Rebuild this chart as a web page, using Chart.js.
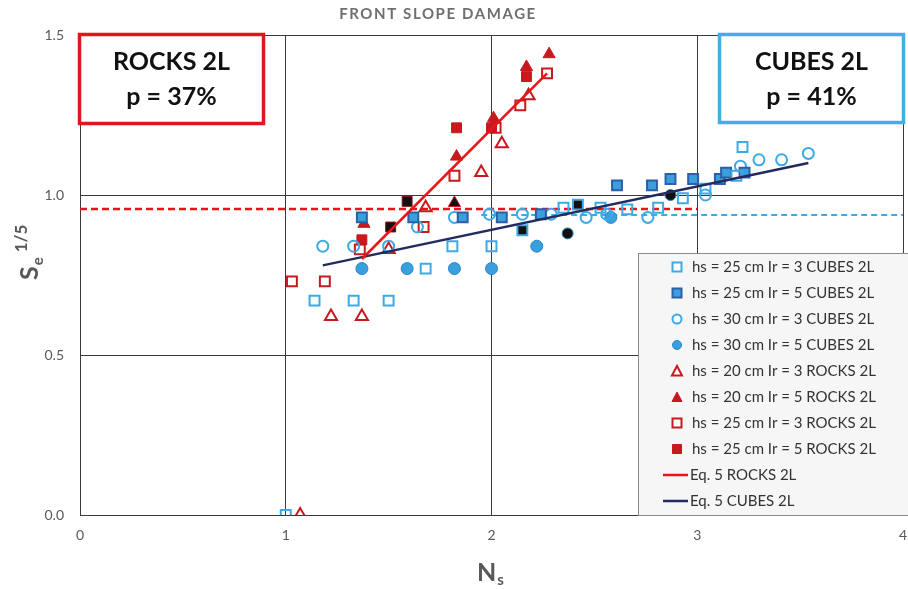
<!DOCTYPE html>
<html>
<head>
<meta charset="utf-8">
<script src="https://cdn.jsdelivr.net/npm/chart.js@4.4.1/dist/chart.umd.min.js"></script>
<style>
  html, body { margin: 0; padding: 0; background: #fff; overflow: hidden; }
  #wrap { width: 908px; height: 589px; overflow: hidden; }
</style>
</head>
<body>
<div id="wrap"><canvas id="myChart" width="912" height="589"></canvas></div>
<script>
// data, [Ns, Se^(1/5)]
var cubes25Ir3 = [[1.0,0.0],[1.14,0.67],[1.33,0.67],[1.5,0.67],[1.68,0.77],[1.81,0.84],[2.0,0.84],[2.35,0.96],[2.53,0.96],[2.66,0.955],[2.81,0.96],[2.93,0.99],[3.04,1.02],[3.19,1.06],[3.22,1.15]];
var cubes25Ir5 = [[1.37,0.93],[1.62,0.93],[1.86,0.93],[2.05,0.93],[2.24,0.94],[2.61,1.03],[2.78,1.03],[2.87,1.05],[2.98,1.05],[3.11,1.05],[3.14,1.07],[3.23,1.07]];
var cubes25Ir5Black = [[2.15,0.89],[2.42,0.97]];
var cubes30Ir3 = [[1.18,0.84],[1.33,0.84],[1.5,0.84],[1.64,0.9],[1.82,0.93],[1.99,0.94],[2.15,0.94],[2.29,0.94],[2.46,0.93],[2.56,0.94],[2.76,0.93],[3.04,1.0],[3.21,1.09],[3.3,1.11],[3.41,1.11],[3.54,1.13]];
var cubes30Ir5 = [[1.37,0.77],[1.59,0.77],[1.82,0.77],[2.0,0.77],[2.22,0.84],[2.58,0.93]];
var cubes30Ir5Black = [[2.37,0.88],[2.87,1.0]];
var rocks20Ir3 = [[1.07,0.0],[1.22,0.62],[1.37,0.62],[1.5,0.83],[1.68,0.96],[1.95,1.07],[2.05,1.16],[2.18,1.31]];
var rocks20Ir5 = [[1.38,0.91],[1.83,1.12],[2.01,1.24],[2.17,1.4],[2.28,1.44]];
var rocks20Ir5Black = [[1.82,0.975]];
var rocks25Ir3 = [[1.03,0.73],[1.19,0.73],[1.36,0.83],[1.67,0.9],[1.82,1.06],[2.02,1.21],[2.14,1.28],[2.27,1.38]];
var rocks25Ir5 = [[1.37,0.86],[1.83,1.21],[2.0,1.21],[2.17,1.37]];
var rocks25Ir5Black = [[1.51,0.9],[1.59,0.98]];
var eqRocks = [[1.37,0.8],[2.27,1.38]];
var eqCubes = [[1.18,0.78],[3.54,1.1]];
var pRocks = [[0,0.956],[3,0.956]];   // dashed p-level lines
var pCubes = [[1.95,0.9375],[4,0.9375]];

var xTicks = [0, 1, 2, 3, 4];
var yTicks = [0, 0.5, 1.0, 1.5];

var legendLabels = ['hs = 25 cm Ir = 3 CUBES 2L','hs = 25 cm Ir = 5 CUBES 2L','hs = 30 cm Ir = 3 CUBES 2L','hs = 30 cm Ir = 5 CUBES 2L',
  'hs = 20 cm Ir = 3 ROCKS 2L','hs = 20 cm Ir = 5 ROCKS 2L','hs = 25 cm Ir = 3 ROCKS 2L','hs = 25 cm Ir = 5 ROCKS 2L',
  'Eq. 5 ROCKS 2L','Eq. 5 CUBES 2L'];

var LBLUE = '#3CAAE6', DBLUE = '#2E5EA8', FBLUE = '#3A9FDD', RED = '#C8191F', LRED = '#E8141A', NAVY = '#222A5E';
var FONT = 'Lato, "Open Sans", sans-serif';

function pts(arr) { return arr.map(function (p) { return { x: p[0], y: p[1] }; }); }

function marks(label, arr, style, r, bg, border, bw) {
  return { label: label, data: pts(arr), pointStyle: style, pointRadius: r, pointHoverRadius: r,
    backgroundColor: bg, borderColor: border, borderWidth: bw, showLine: false, order: 2 };
}
function line(label, arr, color, w, dash, ord) {
  return { label: label, data: pts(arr), type: 'line', showLine: true, pointRadius: 0, borderColor: color,
    borderWidth: w, borderDash: dash, fill: false, tension: 0, order: ord };
}

var datasets = [
  line('pRocks', pRocks, LRED, 2.5, [7, 4], 3),
  line('pCubes', pCubes, LBLUE, 2, [6, 4], 3),
  marks(legendLabels[0], cubes25Ir3, 'rect', 7, 'rgba(0,0,0,0)', LBLUE, 2),
  marks(legendLabels[1], cubes25Ir5, 'rect', 7, FBLUE, DBLUE, 2),
  marks('b1', cubes25Ir5Black, 'rect', 7, '#111', LBLUE, 2),
  marks(legendLabels[2], cubes30Ir3, 'circle', 5.5, 'rgba(0,0,0,0)', LBLUE, 2),
  marks(legendLabels[3], cubes30Ir5, 'circle', 6, FBLUE, '#2B86C8', 1),
  marks('b2', cubes30Ir5Black, 'circle', 5.5, '#111', '#2B86C8', 1),
  marks(legendLabels[4], rocks20Ir3, 'triangle', 7, 'rgba(0,0,0,0)', RED, 2),
  marks(legendLabels[5], rocks20Ir5, 'triangle', 7, RED, RED, 1),
  marks('b3', rocks20Ir5Black, 'triangle', 7, '#111', RED, 1),
  marks(legendLabels[6], rocks25Ir3, 'rect', 7, 'rgba(0,0,0,0)', RED, 2),
  marks(legendLabels[7], rocks25Ir5, 'rect', 7, RED, RED, 1),
  marks('b4', rocks25Ir5Black, 'rect', 7, '#111', '#8a1010', 1),
  line(legendLabels[8], eqRocks, LRED, 2.5, [], 0),
  line(legendLabels[9], eqCubes, NAVY, 2.5, [], 0)
];

// legend entries (drawn by hand, placed inside the plot like the original)
var legendItems = [
  { k: 'rect', bg: '#fff', bc: LBLUE, bw: 2 },
  { k: 'rect', bg: FBLUE, bc: DBLUE, bw: 2 },
  { k: 'circle', bg: '#fff', bc: LBLUE, bw: 2 },
  { k: 'circle', bg: FBLUE, bc: '#2B86C8', bw: 1 },
  { k: 'triangle', bg: '#fff', bc: RED, bw: 2 },
  { k: 'triangle', bg: RED, bc: RED, bw: 1 },
  { k: 'rect', bg: '#fff', bc: RED, bw: 2 },
  { k: 'rect', bg: RED, bc: RED, bw: 1 },
  { k: 'line', bc: LRED },
  { k: 'line', bc: NAVY }
];

function drawMark(c, it, x, y) {
  c.save();
  c.fillStyle = it.bg; c.strokeStyle = it.bc; c.lineWidth = it.bw;
  c.beginPath();
  if (it.k === 'rect') { c.rect(x - 4.5, y - 4.5, 9, 9); }
  else if (it.k === 'circle') { c.arc(x, y, 4.5, 0, Math.PI * 2); }
  else if (it.k === 'triangle') { c.moveTo(x, y - 5); c.lineTo(x + 5, y + 4.5); c.lineTo(x - 5, y + 4.5); c.closePath(); }
  if (it.k === 'line') { c.lineWidth = 2.5; c.moveTo(x - 14, y); c.lineTo(x + 11, y); c.stroke(); }
  else { c.fill(); c.stroke(); }
  c.restore();
}

function textBox(c, l, t, r, b, color, lines) {
  c.save();
  c.fillStyle = '#fff';
  c.fillRect(l, t, r - l, b - t);
  c.lineWidth = 3.5; c.strokeStyle = color;
  c.strokeRect(l + 1.5, t + 1.5, r - l - 3, b - t - 3);
  c.fillStyle = '#111'; c.font = 'bold 25px ' + FONT;
  c.textAlign = 'center'; c.textBaseline = 'middle';
  c.fillText(lines[0], (l + r) / 2, t + 29);
  c.fillText(lines[1], (l + r) / 2, t + 64);
  c.restore();
}

var extras = {
  id: 'extras',
  afterDraw: function (chart) {
    var c = chart.ctx;
    c.save();
    // title
    c.fillStyle = '#6f6f6f'; c.font = 'bold 15px ' + FONT;
    c.textAlign = 'center'; c.textBaseline = 'middle';
    c.letterSpacing = '1.6px';
    c.fillText('FRONT SLOPE DAMAGE', 438, 14);
    c.letterSpacing = '0px';

    // axis titles with sub/superscripts
    c.fillStyle = '#595959';
    c.textAlign = 'left'; c.textBaseline = 'alphabetic';
    c.font = 'bold 25px ' + FONT;
    var nw = c.measureText('N').width;
    c.fillText('N', 477, 581);
    c.font = 'bold 15px ' + FONT;
    c.fillText('s', 477 + nw + 1, 585);

    c.save();
    c.translate(38, 280);
    c.rotate(-Math.PI / 2);
    c.font = 'bold 25px ' + FONT;
    var sw = c.measureText('S').width;
    c.fillText('S', 0, 0);
    c.font = 'bold 15px ' + FONT;
    c.fillText('e', sw + 1, 5);
    c.font = 'bold 17px ' + FONT;
    c.fillText('1/5', sw + 14, -11);
    c.restore();

    // annotation boxes
    textBox(c, 78, 33, 265, 125, '#E3141B', ['ROCKS 2L', 'p = 37%']);
    textBox(c, 718, 33, 905, 124, '#3DB0E6', ['CUBES 2L', 'p = 41%']);

    // legend
    c.fillStyle = '#f6f6f6';
    c.fillRect(638, 253, 280, 262);
    c.strokeStyle = '#8a8a8a'; c.lineWidth = 1;
    c.strokeRect(638.5, 253.5, 280, 262);
    c.font = '15px ' + FONT; c.fillStyle = '#333';
    c.textAlign = 'left'; c.textBaseline = 'middle';
    for (var i = 0; i < legendItems.length; i++) {
      var y = 267 + i * 26;
      drawMark(c, legendItems[i], 677, y);
      c.fillText(legendLabels[i], i < 8 ? 692 : 690, y);
    }
    c.restore();
  }
};

var ctx = document.getElementById('myChart').getContext('2d');
var chart = new Chart(ctx, {
  type: 'scatter',
  data: { datasets: datasets },
  options: {
    responsive: false,
    animation: false,
    layout: { padding: { top: 35, right: 0, left: 0, bottom: 0 } },
    plugins: { legend: { display: false }, tooltip: { enabled: false } },
    scales: {
      x: {
        type: 'linear', min: 0, max: 4,
        afterBuildTicks: function (s) { s.ticks = xTicks.map(function (v) { return { value: v }; }); },
        afterFit: function (s) { s.height = 74; s.paddingLeft = 0; s.paddingRight = 0; },
        grid: { color: '#3a3a3a', lineWidth: 1, drawTicks: false },
        border: { color: '#3a3a3a' },
        ticks: { color: '#595959', font: { family: FONT, size: 14 }, padding: 12 }
      },
      y: {
        type: 'linear', min: 0, max: 1.5,
        afterBuildTicks: function (s) { s.ticks = yTicks.map(function (v) { return { value: v }; }); },
        afterFit: function (s) { s.width = 80; s.paddingTop = 0; s.paddingBottom = 0; },
        grid: { color: '#3a3a3a', lineWidth: 1, drawTicks: false },
        border: { color: '#3a3a3a' },
        ticks: { color: '#595959', font: { family: FONT, size: 14 }, padding: 16,
          callback: function (v) { return Number(v).toFixed(1); } }
      }
    }
  },
  plugins: [extras]
});
</script>
</body>
</html>
